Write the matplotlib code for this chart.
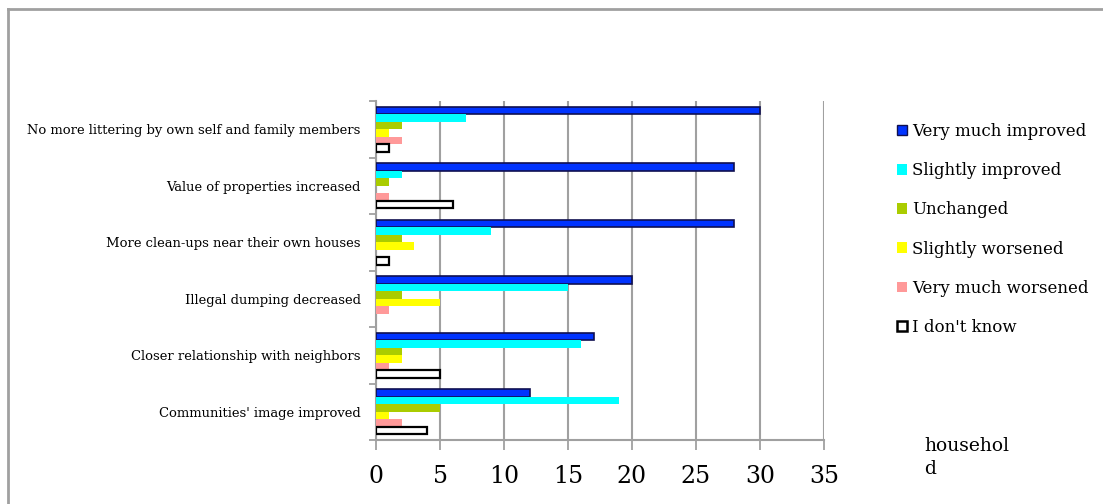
import matplotlib
matplotlib.use("Agg")
import matplotlib.pyplot as plt
import matplotlib.patches as mpatches
from matplotlib.lines import Line2D
import numpy as np

plt.rcParams['font.family'] = ['DejaVu Serif']

categories = [
    "No more littering by own self and family members",
    "Value of properties increased",
    "More clean-ups near their own houses",
    "Illegal dumping decreased",
    "Closer relationship with neighbors",
    "Communities' image improved",
]
series_names = ["Very much improved", "Slightly improved", "Unchanged",
                "Slightly worsened", "Very much worsened", "I don't know"]
very_much_improved = [30, 28, 28, 20, 17, 12]
slightly_improved = [7, 2, 9, 15, 16, 19]
unchanged = [2, 1, 2, 2, 2, 5]
slightly_worsened = [1, 0, 3, 5, 2, 1]
very_much_worsened = [2, 1, 0, 1, 1, 2]
dont_know = [1, 6, 1, 0, 5, 4]
x_ticks = [0, 5, 10, 15, 20, 25, 30, 35]
unit_label_lines = ["househol", "d"]

series = [very_much_improved, slightly_improved, unchanged,
          slightly_worsened, very_much_worsened, dont_know]
faces = ["#0033FF", "#00FFFF", "#AACC00", "#FFFF00", "#FF9999", "#FFFFFF"]
edges = ["#101050", "none", "none", "none", "none", "#000000"]
lws = [1.2, 0, 0, 0, 0, 1.6]

fig = plt.figure(figsize=(11.03, 5.04), dpi=100)
W, H = 1103, 504
ax = fig.add_axes([376 / W, 1 - 440 / H, 448 / W, 339 / H])

n = len(categories)
y = np.arange(n)
bh = 0.8 / 6
for i, vals in enumerate(series):
    vals = np.asarray(vals, dtype=float)
    mask = vals > 0
    ax.barh((y - 0.4 + bh * (i + 0.5))[mask], vals[mask], height=bh * 0.98, color=faces[i],
            edgecolor=edges[i], linewidth=lws[i], zorder=3)

ax.set_ylim(n - 0.5, -0.5)
ax.set_xlim(0, 35)
ax.set_xticks(x_ticks)
ax.set_xticklabels([str(t) for t in x_ticks], fontsize=17)
ax.set_yticks(y)
ax.set_yticklabels(categories, fontsize=9.45)
ax.set_yticks(np.arange(-0.5, n, 1), minor=True)
ax.tick_params(axis='y', which='major', length=0, pad=11)
ax.tick_params(axis='y', which='minor', length=5, width=1.3, color='#A0A0A0', direction='out')
ax.tick_params(axis='x', which='major', length=7, width=1.3, color='#A0A0A0', direction='out', pad=11)
for s in ['top', 'right']:
    ax.spines[s].set_visible(False)
for s in ['left', 'bottom']:
    ax.spines[s].set_color('#A0A0A0')
    ax.spines[s].set_linewidth(1.5)
ax.grid(axis='x', color='#A0A0A0', linewidth=1.5, zorder=0)
ax.set_axisbelow(True)

handles = [mpatches.Patch(facecolor=faces[i],
                          edgecolor=(edges[i] if edges[i] != "none" else faces[i]),
                          linewidth=(1.0 if i == 0 else (1.8 if i == 5 else 0)))
           for i in range(6)]
fig.legend(handles, series_names, loc='upper left', bbox_to_anchor=(897 / W, 1 - 123 / H),
           frameon=False, fontsize=12, handlelength=0.6, handleheight=0.6,
           handletextpad=0.3, labelspacing=1.33, borderaxespad=0, borderpad=0)

fig.text(924 / W, 1 - 451 / H, unit_label_lines[0], fontsize=13.5, va='baseline', ha='left')
fig.text(924 / W, 1 - 474 / H, unit_label_lines[1], fontsize=13.5, va='baseline', ha='left')

# outer frame (left and top edges visible)
fig.add_artist(Line2D([7.5 / W, 7.5 / W], [0, 1 - 8.5 / H], transform=fig.transFigure,
                      color='#A0A0A0', linewidth=2))
fig.add_artist(Line2D([7.5 / W, 1], [1 - 8.5 / H, 1 - 8.5 / H], transform=fig.transFigure,
                      color='#A0A0A0', linewidth=2))

fig.savefig("out.png", dpi=100)
